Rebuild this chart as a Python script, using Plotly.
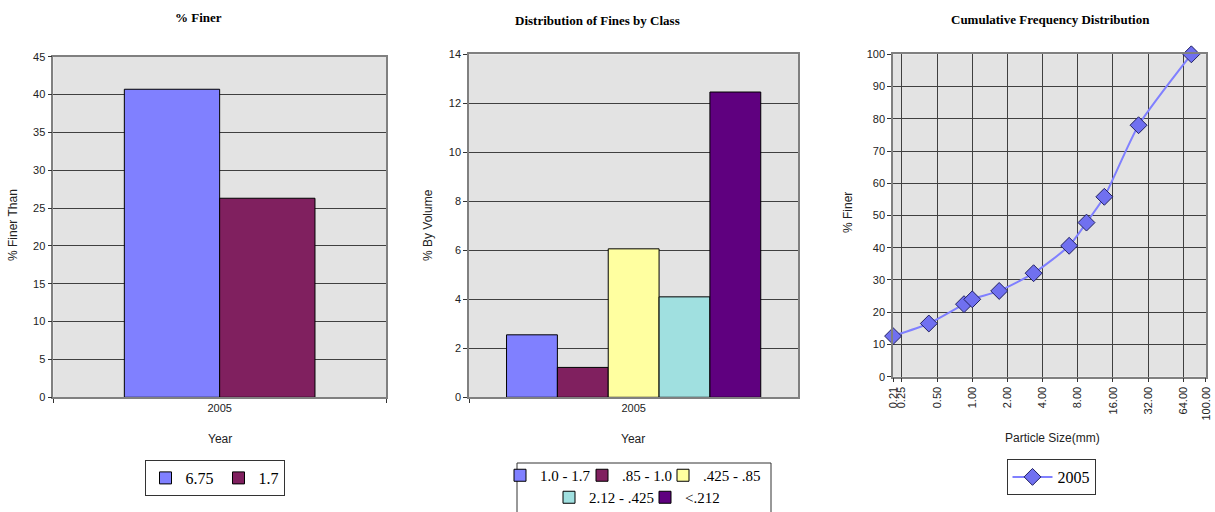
import math
import plotly.graph_objects as go

# ---------------- data ----------------
year_cat = ["2005"]

finer_names = ["6.75", "1.7"]
finer_values = [40.7, 26.3]
finer_colors = ["#8080FF", "#80205F"]

class_names = ["1.0 - 1.7", ".85 - 1.0", ".425 - .85", "2.12 - .425", "<.212"]
class_values = [2.55, 1.22, 6.06, 4.1, 12.46]
class_colors = ["#8080FF", "#80205F", "#FFFFA0", "#A0E0E0", "#5F007F"]

cum_size = [0.21, 0.425, 0.85, 1.0, 1.7, 3.35, 6.75, 9.5, 13.5, 26.5, 75.0]
cum_finer = [12.6, 16.5, 22.5, 24.0, 26.6, 32.1, 40.6, 47.8, 55.8, 78.0, 100.0]

size_ticks = [0.21, 0.25, 0.5, 1, 2, 4, 8, 16, 32, 64, 100]
size_tick_text = ["0.21", "0.25", "0.50", "1.00", "2.00", "4.00", "8.00",
                  "16.00", "32.00", "64.00", "100.00"]

# ---------------- layout helpers ----------------
W, H = 1215, 512
def px_x(x):
    return x / W
def px_y(y):
    return 1 - y / H

BG = "#E3E3E3"
GRID = "#404040"
EDGE = "#808080"
SANS = "Liberation Sans, Arial, sans-serif"
SERIF = "Liberation Serif, Times New Roman, serif"
LEG_FONT = dict(family=SERIF, size=16, color="black")
LEG_FONT2 = dict(family=SERIF, size=15, color="black")

# legend slots for the chart-2 classes (left edge px, top px), one legend per entry
class_legend_ids = ["legend2", "legend4", "legend5", "legend6", "legend7"]
class_legend_pos = [(500, 459), (582, 459), (663, 459), (549, 481), (645, 481)]

fig = go.Figure()

# chart 1 bars
tot1 = 0.573
w1 = tot1 / len(finer_values)
for i, (n, v, c) in enumerate(zip(finer_names, finer_values, finer_colors)):
    fig.add_trace(go.Bar(
        x=year_cat, y=[v], name=n, marker=dict(color=c, line=dict(color="black", width=1)),
        width=w1, offset=-tot1 / 2 + i * w1, xaxis="x", yaxis="y", legend="legend",
        hoverinfo="y+name"))

# chart 2 bars
tot2 = 0.772
w2 = tot2 / len(class_values)
for i, (n, v, c) in enumerate(zip(class_names, class_values, class_colors)):
    fig.add_trace(go.Bar(
        x=year_cat, y=[v], name=n, marker=dict(color=c, line=dict(color="black", width=1)),
        width=w2, offset=-tot2 / 2 + i * w2, xaxis="x2", yaxis="y2",
        legend=class_legend_ids[i], hoverinfo="y+name"))

# chart 3 line
fig.add_trace(go.Scatter(
    x=cum_size, y=cum_finer, name="2005", mode="lines+markers",
    line=dict(color="#8080FF", width=2, shape="spline", smoothing=0.6),
    marker=dict(symbol="diamond", size=13, color="#7070F0",
                line=dict(color="#202060", width=1)),
    cliponaxis=False,
    xaxis="x3", yaxis="y3", legend="legend3"))

axis_common = dict(showline=True, linecolor=EDGE, linewidth=1.5, mirror=True,
                   tickfont=dict(family=SANS, size=11, color="#222"),
                   ticks="outside", ticklen=4, tickcolor="#333", automargin=False)

legends = {}
for lid, (lx, ly) in zip(class_legend_ids, class_legend_pos):
    legends[lid] = dict(orientation="h", x=px_x(lx), xanchor="left", y=px_y(ly),
                        yanchor="top", borderwidth=0, font=LEG_FONT2, itemwidth=30,
                        bgcolor="rgba(0,0,0,0)")

fig.update_layout(
    width=W, height=H,
    margin=dict(l=0, r=0, t=0, b=0, autoexpand=False),
    paper_bgcolor="white",
    plot_bgcolor=BG,
    barmode="group",
    xaxis=dict(domain=[px_x(53.3), px_x(386)], anchor="y", type="category",
               range=[-0.5, 0.5], showgrid=False, tickson="boundaries", **axis_common),
    yaxis=dict(domain=[px_y(397.3), px_y(56.7)], anchor="x", range=[0, 45], dtick=5,
               showgrid=True, gridcolor=GRID, gridwidth=1, zeroline=False, **axis_common),
    xaxis2=dict(domain=[px_x(469), px_x(798.3)], anchor="y2", type="category",
                range=[-0.5, 0.5], showgrid=False, tickson="boundaries", **axis_common),
    yaxis2=dict(domain=[px_y(397.3), px_y(54.3)], anchor="x2", range=[0, 14], dtick=2,
                showgrid=True, gridcolor=GRID, gridwidth=1, zeroline=False, **axis_common),
    xaxis3=dict(domain=[px_x(893), px_x(1206)], anchor="y3", type="log",
                range=[math.log10(0.21) - 0.0005, math.log10(100) + 0.0005],
                tickvals=size_ticks, ticktext=size_tick_text, tickangle=-90,
                ticklabeloverflow="allow",
                showgrid=True, gridcolor=GRID, gridwidth=1, **axis_common),
    yaxis3=dict(domain=[px_y(376.7), px_y(54.3)], anchor="x3", range=[0, 100], dtick=10,
                showgrid=True, gridcolor=GRID, gridwidth=1, zeroline=False, **axis_common),
    legend=dict(orientation="h", x=px_x(214.5), xanchor="center", y=px_y(460), yanchor="top",
                bordercolor="#333", borderwidth=1, font=LEG_FONT, itemwidth=30,
                tracegroupgap=0),
    legend3=dict(orientation="h", x=px_x(1051), xanchor="center", y=px_y(459), yanchor="top",
                 bordercolor="#333", borderwidth=1, font=LEG_FONT, itemwidth=40),
    showlegend=True,
    **legends,
)

# frame round the two-row legend of chart 2
fig.add_shape(type="rect", xref="paper", yref="paper",
              x0=px_x(517), x1=px_x(771), y0=px_y(513), y1=px_y(463),
              line=dict(color="#333", width=1), fillcolor="rgba(0,0,0,0)")

titles = [
    ("% Finer", 198, 17),
    ("Distribution of Fines by Class", 597, 20),
    ("Cumulative Frequency Distribution", 1050, 19),
]
for t, x, y in titles:
    fig.add_annotation(text="<b>%s</b>" % t, x=px_x(x), y=px_y(y), xref="paper", yref="paper",
                       showarrow=False, font=dict(family=SERIF, size=13, color="black"),
                       xanchor="center", yanchor="middle")

axis_titles = [
    ("Year", 220, 439, 0),
    ("Year", 633, 439, 0),
    ("Particle Size(mm)", 1052, 438, 0),
    ("% Finer Than", 13, 225, -90),
    ("% By Volume", 428, 225, -90),
    ("% Finer", 848, 213, -90),
]
for t, x, y, a in axis_titles:
    fig.add_annotation(text=t, x=px_x(x), y=px_y(y), xref="paper", yref="paper",
                       showarrow=False, textangle=a, font=dict(family=SANS, size=12, color="#222"),
                       xanchor="center", yanchor="middle")

fig.write_html(
    "out.html",
    config={"responsive": False, "displayModeBar": False},
    post_script="document.body.style.margin='0';document.body.style.overflow='hidden';",
)
